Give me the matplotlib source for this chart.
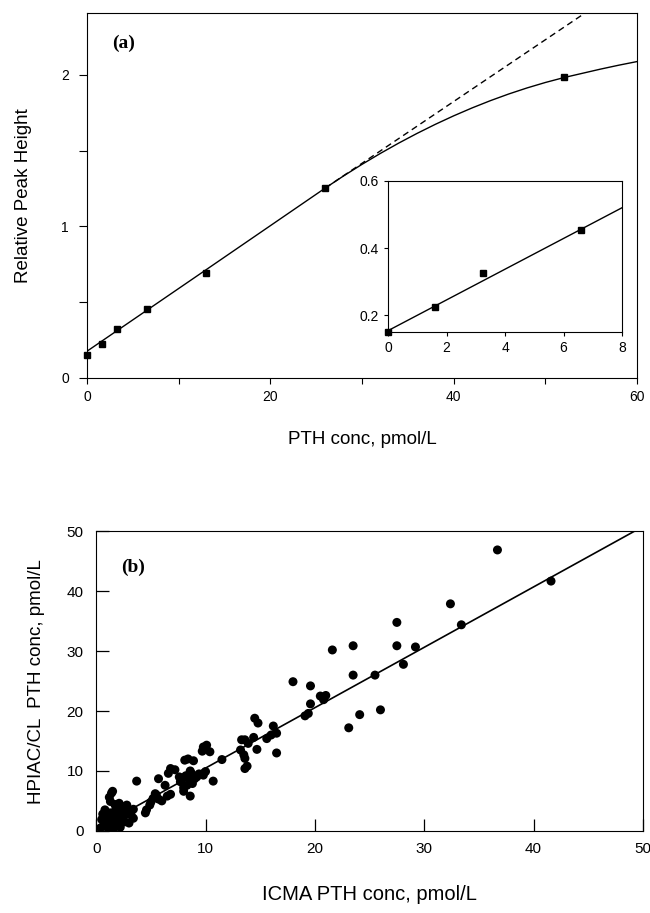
import matplotlib
matplotlib.use("Agg")
import matplotlib.pyplot as plt

plt.rcParams['font.family'] = ['Liberation Sans', 'DejaVu Sans']

# (a) calibration points
conc = [0, 1.6, 3.25, 6.5, 13, 26, 52]
rel_peak = [0.15, 0.225, 0.325, 0.455, 0.69, 1.255, 1.985]
# fitted curve
fit_x = [0, 13, 26, 28, 30, 32, 34, 36, 38, 40, 42, 44, 46, 48, 50, 52, 54, 56, 58, 60]
fit_y = [0.177, 0.715, 1.254, 1.334, 1.410, 1.482, 1.550, 1.614, 1.674, 1.730,
         1.782, 1.830, 1.874, 1.914, 1.950, 1.982, 2.010, 2.038, 2.064, 2.088]
# linear extrapolation (dashed)
lin_x = [26, 54]
lin_y = [1.254, 2.395]
# inset (low range)
ins_x = [0, 1.6, 3.25, 6.6]
ins_y = [0.15, 0.225, 0.325, 0.455]
ins_line_x = [0, 8]
ins_line_y = [0.155, 0.52]

# (b) method comparison
icma = [36.7, 41.6, 32.4, 33.4, 27.5, 27.5, 29.2, 23.5, 21.6, 23.5, 28.1, 25.5,
        18.0, 19.6, 19.6, 20.5, 20.8, 21.0, 19.1, 19.4, 24.1, 26.0, 23.1,
        14.5, 14.8, 16.2, 16.5, 15.6, 16.0, 16.5, 13.3, 13.6, 13.9, 14.4, 13.2,
        13.5, 13.6, 13.6, 13.8, 14.7, 11.5, 9.8, 10.1, 10.4, 9.7, 8.1, 8.9, 8.4,
        6.8, 7.2, 6.6, 6.3, 10.7, 9.8, 10.0, 9.4, 8.6, 6.5, 6.8, 8.0, 7.7, 7.9,
        8.2, 8.5, 8.7, 9.0, 8.3, 8.0, 9.2, 7.6, 8.6, 8.8,
        3.7, 5.7, 5.5, 5.2, 5.4, 4.9, 4.6, 4.5, 5.7, 6.0, 5.0,
        1.4, 1.5, 1.3, 1.2, 2.5, 3.1, 3.4, 2.2, 0.8, 0.5, 1.0, 1.9, 2.6, 3.4,
        2.8, 2.6, 1.6, 1.1, 0.7, 1.8, 2.0, 1.4, 2.3, 0.4, 1.6, 2.9, 1.0, 1.7,
        2.1, 0.9, 1.3, 1.9, 2.4, 3.0, 1.2, 0.6, 2.2, 1.5, 2.7, 3.2]
hpiac = [46.9, 41.7, 37.9, 34.4, 34.8, 30.9, 30.7, 30.9, 30.2, 26.0, 27.8, 26.0,
         24.9, 24.2, 21.2, 22.5, 21.9, 22.6, 19.2, 19.6, 19.4, 20.2, 17.2,
         18.8, 18.0, 17.5, 16.3, 15.4, 16.0, 13.0, 15.2, 15.2, 14.6, 15.6, 13.5,
         12.7, 12.1, 10.4, 10.8, 13.6, 11.9, 14.0, 14.3, 13.2, 13.3, 11.8, 11.7, 12.0,
         10.4, 10.2, 9.6, 7.6, 8.3, 9.3, 9.9, 9.5, 5.8, 5.8, 6.1, 6.6, 8.2, 8.8,
         9.2, 8.6, 9.6, 8.7, 7.6, 7.2, 9.0, 9.0, 10.0, 7.9,
         8.3, 8.7, 6.0, 5.4, 6.2, 4.3, 3.5, 3.0, 5.3, 5.0, 4.8,
         6.3, 6.6, 4.9, 5.6, 4.0, 3.2, 3.6, 3.2, 3.5, 1.9, 0.6, 0.9, 1.5, 2.1,
         4.3, 2.6, 2.4, 1.4, 1.0, 3.6, 1.8, 1.8, 2.4, 0.5, 0.4, 2.9, 2.8, 4.4,
         4.6, 2.2, 3.0, 2.8, 3.7, 1.3, 0.3, 2.8, 0.6, 1.2, 3.4, 2.6]
reg_x = [0.5, 50]
reg_y = [0.9, 50.8]

fig = plt.figure(figsize=(6.5, 9.13), dpi=100)

# ---- panel (a)
ax1 = fig.add_axes([0.134, 0.586, 0.846, 0.400])
ax1.plot(fit_x, fit_y, color='black', lw=1.0)
ax1.plot(lin_x, lin_y, color='black', lw=1.0, ls=(0, (4.5, 3)))
ax1.plot(conc, rel_peak, 's', color='black', ms=5, clip_on=False)
ax1.set_xlim(0, 60)
ax1.set_ylim(0, 2.41)
ax1.set_xticks([0, 20, 40, 60])
ax1.set_xticks([10, 30, 50], minor=True)
ax1.set_yticks([0, 1, 2])
ax1.set_yticks([0.5, 1.5], minor=True)
ax1.tick_params(which='both', direction='out', width=0.8, labelsize=10)
ax1.tick_params(axis='x', which='both', length=4.5, pad=4)
ax1.tick_params(axis='y', which='both', length=6, pad=7)
ax1.set_xlabel('PTH conc, pmol/L', fontsize=13.5)
ax1.set_ylabel('Relative Peak Height', fontsize=13.5)
ax1.xaxis.set_label_coords(0.5, -0.145)
ax1.yaxis.set_label_coords(-0.100, 0.5)
ax1.text(0.045, 0.916, '(a)', transform=ax1.transAxes, fontsize=14,
         fontweight='bold', family='Liberation Serif', va='center', ha='left')

# inset
axi = fig.add_axes([0.597, 0.636, 0.360, 0.166])
axi.plot(ins_line_x, ins_line_y, color='black', lw=1.0)
axi.plot(ins_x, ins_y, 's', color='black', ms=5, clip_on=False)
axi.set_xlim(0, 8)
axi.set_ylim(0.15, 0.6)
axi.set_xticks([0, 2, 4, 6, 8])
axi.set_yticks([0.2, 0.4, 0.6])
axi.tick_params(direction='out', length=3, width=0.8, labelsize=10)

# ---- panel (b)
ax2 = fig.add_axes([0.148, 0.090, 0.841, 0.328])
ax2.scatter(icma, hpiac, s=42, color='black', edgecolors='none', zorder=3)
ax2.plot(reg_x, reg_y, color='black', lw=1.2)
ax2.set_xlim(0, 50)
ax2.set_ylim(0, 50)
ax2.set_xticks(range(0, 51, 10))
ax2.set_yticks(range(0, 51, 10))
ax2.tick_params(direction='in', length=9, width=0.9, labelsize=11)
ax2.tick_params(axis='x', pad=8)
ax2.tick_params(axis='y', pad=9)
ax2.set_xlabel('ICMA PTH conc, pmol/L', fontsize=14.5)
ax2.set_ylabel('HPIAC/CL  PTH conc, pmol/L', fontsize=13.5)
ax2.xaxis.set_label_coords(0.5, -0.182)
ax2.yaxis.set_label_coords(-0.093, 0.5)
ax2.text(0.046, 0.879, '(b)', transform=ax2.transAxes, fontsize=14,
         fontweight='bold', family='Liberation Serif', va='center', ha='left')

fig.savefig('out.png', dpi=100)
